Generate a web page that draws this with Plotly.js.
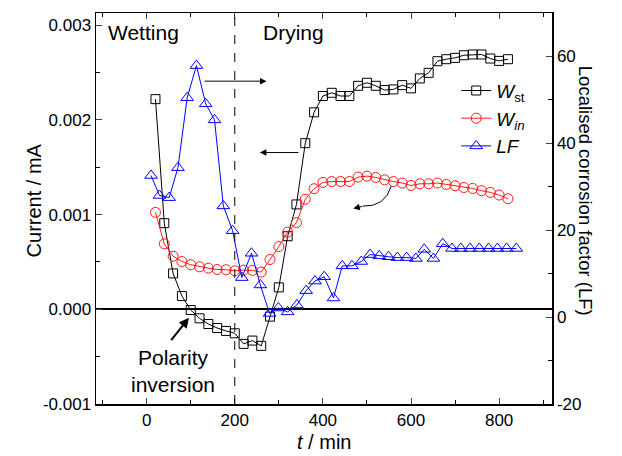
<!DOCTYPE html>
<html>
<head>
<meta charset="utf-8">
<script src="https://cdn.plot.ly/plotly-3.0.1.min.js"></script>
<style>html,body{margin:0;padding:0;background:#fff;}#chart{width:622px;height:456px;}</style>
</head>
<body>
<div id="chart"></div>
<script>
// time (min) for current series
const tCurrent = [20,40,60,80,100,120,140,160,180,200,220,240,260,280,300,320,340,360,380,400,420,440,460,480,500,520,540,560,580,600,620,640,660,680,700,720,740,760,780,800,820];
// W_st current (mA)
const wst = [0.00222,0.00091,0.000379,0.00014,-0.000007,-0.000095,-0.000155,-0.000197,-0.000228,-0.000253,-0.000365,-0.00033,-0.000386,-0.000077,0.000232,0.000772,0.001108,0.001755,0.002081,0.002253,0.002287,0.002253,0.002253,0.002361,0.002393,0.002361,0.002316,0.002323,0.002368,0.002334,0.002439,0.002498,0.002621,0.002642,0.002656,0.002684,0.002692,0.002692,0.002649,0.002624,0.002642];
// W_in current (mA)
const win = [0.001024,0.000692,0.000561,0.000505,0.000471,0.000449,0.000435,0.000421,0.000418,0.000407,0.000414,0.000411,0.000393,0.000526,0.000663,0.000816,0.000916,0.001163,0.001274,0.00134,0.00135,0.00135,0.00135,0.001397,0.001407,0.001393,0.001368,0.00135,0.001334,0.001308,0.001326,0.001326,0.001334,0.001319,0.001305,0.001287,0.001277,0.001253,0.001235,0.001207,0.001168];
// time (min) for LF series
const tLF = [10,29,51,71,92,113,134,154,174,195,216,238,258,279,299,320,341,362,382,403,424,444,466,487,507,528,549,569,590,611,630,651,672,693,713,734,755,776,796,817,839];
// Localised corrosion factor
const lf = [32.6,28.0,27.5,34.4,50.5,57.9,49.1,45.4,25.6,19.9,9.1,14.7,7.4,0.85,2.1,1.2,2.8,6.1,8.3,9.3,4.4,11.8,11.8,12.8,14.4,14.1,13.9,13.7,13.7,13.5,15.6,13.5,16.9,15.8,15.8,15.8,15.8,15.8,15.8,15.8,15.8];

const leftTicks = [-0.001,0,0.001,0.002,0.003];
const leftTickText = ['-0.001','0.000','0.001','0.002','0.003'];
const rightTicks = [-20,0,20,40,60];
const rightTickText = ['-20','0','20','40','60'];
const xTicks = [0,200,400,600,800];
const xTickText = ['0','200','400','600','800'];

const FONT = 'Liberation Sans, Arial, Helvetica, sans-serif';

const traces = [
  {x: tCurrent, y: wst, name: '<i>W</i><sub>st</sub>', type: 'scatter', mode: 'lines+markers',
   line: {color: '#000000', width: 1},
   marker: {symbol: 'square-open', size: 9, color: '#000000', line: {width: 1, color: '#000000'}}},
  {x: tCurrent, y: win, name: '<i>W<sub>in</sub></i>', type: 'scatter', mode: 'lines+markers',
   line: {color: '#ff1a1a', width: 1},
   marker: {symbol: 'circle-open', size: 10, color: '#ff1a1a', line: {width: 1, color: '#ff1a1a'}}},
  {x: tLF, y: lf, name: '<i>LF</i>', type: 'scatter', mode: 'lines+markers', yaxis: 'y2',
   line: {color: '#0000ff', width: 1},
   marker: {symbol: 'triangle-up-open', size: 11, color: '#0000ff', line: {width: 1, color: '#0000ff'}}}
];

const layout = {
  width: 622, height: 456,
  margin: {l: 96, r: 70, t: 13, b: 52},
  paper_bgcolor: '#ffffff', plot_bgcolor: '#ffffff',
  font: {family: FONT, size: 17, color: '#000'},
  showlegend: true,
  legend: {x: 0.79, y: 0.85, xanchor: 'left', yanchor: 'top', bgcolor: 'rgba(0,0,0,0)',
           font: {family: FONT, size: 19}, tracegroupgap: 0},
  xaxis: {range: [-115, 920], tickvals: xTicks, ticktext: xTickText, ticks: 'inside', ticklen: 6,
          tickwidth: 1, showline: true, linewidth: 1.5, linecolor: '#000', mirror: 'ticks',
          showgrid: false, zeroline: false,
          minor: {dtick: 100, tick0: 0, ticks: 'inside', ticklen: 4, tickwidth: 1, tickcolor: '#000', showgrid: false},
          tickfont: {family: FONT, size: 17}},
  yaxis: {range: [-0.001, 0.00313], tickvals: leftTicks, ticktext: leftTickText, ticks: 'inside', ticklen: 6,
          tickwidth: 1, showline: true, linewidth: 1.5, linecolor: '#000',
          showgrid: false, zeroline: true, zerolinewidth: 2, zerolinecolor: '#000',
          minor: {dtick: 0.0005, tick0: 0, ticks: 'inside', ticklen: 4, tickwidth: 1, tickcolor: '#000', showgrid: false},
          tickfont: {family: FONT, size: 17}},
  yaxis2: {range: [-20, 70], overlaying: 'y', side: 'right', tickvals: rightTicks, ticktext: rightTickText,
           ticks: 'inside', ticklen: 6, tickwidth: 1, showline: true, linewidth: 1.5, linecolor: '#000',
           showgrid: false, zeroline: false,
           minor: {dtick: 10, tick0: 0, ticks: 'inside', ticklen: 4, tickwidth: 1, tickcolor: '#000', showgrid: false},
           tickfont: {family: FONT, size: 17}},
  shapes: [
    {type: 'line', xref: 'x', yref: 'paper', x0: 200, x1: 200, y0: 0, y1: 1,
     line: {color: '#000', width: 1, dash: 'dash'}},
    {type: 'path', xref: 'x', yref: 'y', path: 'M 555,0.00130 Q 541,0.00108 490,0.00109',
     line: {color: '#000', width: 1}}
  ],
  annotations: [
    {xref: 'paper', yref: 'paper', x: -0.165, y: 0.52, text: 'Current / mA', textangle: -90, showarrow: false,
     font: {family: FONT, size: 20}},
    {xref: 'paper', yref: 'paper', x: 1.1, y: 0.545, text: 'Localised corrosion factor (LF)', textangle: 90, showarrow: false,
     font: {family: FONT, size: 18.5}},
    {xref: 'paper', yref: 'paper', x: 0.5, y: -0.098, yanchor: 'middle', text: '<i>t</i> / min', showarrow: false,
     font: {family: FONT, size: 20}},
    {xref: 'x', yref: 'y', x: -8, y: 0.00292, text: 'Wetting', showarrow: false, font: {family: FONT, size: 21}},
    {xref: 'x', yref: 'y', x: 334, y: 0.00292, text: 'Drying', showarrow: false, font: {family: FONT, size: 21}},
    {xref: 'x', yref: 'y', x: 60, y: -0.00065, text: 'Polarity<br>inversion', showarrow: false, font: {family: FONT, size: 21}},
    {xref: 'x', yref: 'y', axref: 'x', ayref: 'y', x: 272, y: 0.00241, ax: 128, ay: 0.00241, text: '',
     showarrow: true, arrowhead: 2, arrowsize: 1.3, arrowwidth: 1, arrowcolor: '#000'},
    {xref: 'x', yref: 'y', axref: 'x', ayref: 'y', x: 257, y: 0.001656, ax: 348, ay: 0.001656, text: '',
     showarrow: true, arrowhead: 2, arrowsize: 1.3, arrowwidth: 1, arrowcolor: '#000'},
    {xref: 'x', yref: 'y', axref: 'x', ayref: 'y', x: 96, y: -0.00009, ax: 53, ay: -0.00034, text: '',
     showarrow: true, arrowhead: 2, arrowsize: 1, arrowwidth: 2, arrowcolor: '#000'},
    {xref: 'x', yref: 'y', axref: 'x', ayref: 'y', x: 469, y: 0.001066, ax: 492, ay: 0.00109, text: '',
     showarrow: true, arrowhead: 2, arrowsize: 1.3, arrowwidth: 1, arrowcolor: '#000'}
  ]
};

Plotly.newPlot('chart', traces, layout, {staticPlot: true, displayModeBar: false});
</script>
</body>
</html>
